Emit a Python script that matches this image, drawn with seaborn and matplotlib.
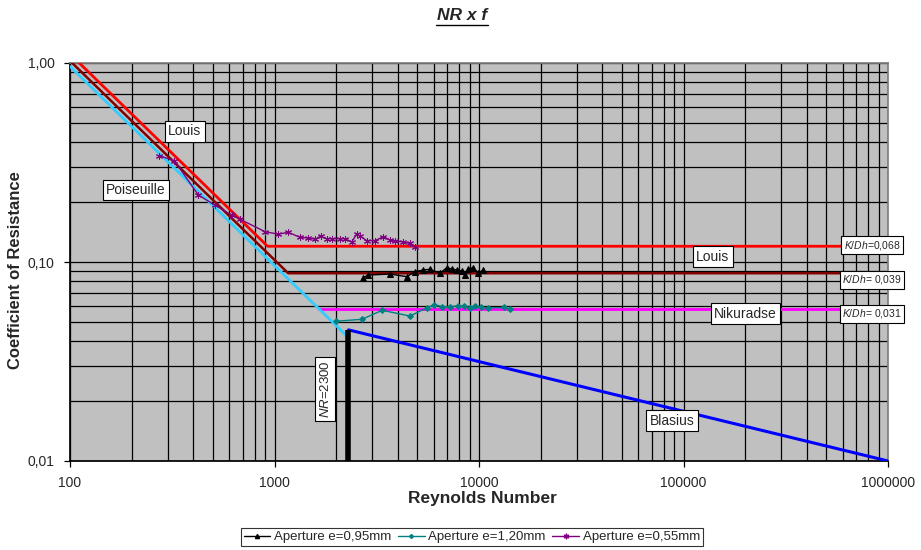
import numpy as np
import pandas as pd
import matplotlib
matplotlib.use("Agg")
import matplotlib.pyplot as plt
from matplotlib.ticker import LogLocator, FixedLocator, FuncFormatter, NullFormatter
from matplotlib.lines import Line2D
import seaborn as sns

re_095 = [2718, 2876, 3672, 4431, 4864, 5341, 5756, 6442, 6950, 7355, 7784, 8232, 8543, 8867, 9380, 9922, 10495]
f_095 = [0.0834, 0.0860, 0.0870, 0.0844, 0.0894, 0.0912, 0.0919, 0.0877, 0.0936, 0.0923, 0.0912, 0.0901,
         0.0860, 0.0923, 0.0936, 0.0877, 0.0912]

re_120 = [2005, 2670, 3363, 4598, 5567, 6058, 6607, 7239, 7923, 8410, 9036, 9560, 10228, 11007, 13195, 14229]
f_120 = [0.0504, 0.0515, 0.0572, 0.0535, 0.0589, 0.0610, 0.0596, 0.0596, 0.0603, 0.0601, 0.0585, 0.0603,
         0.0591, 0.0587, 0.0591, 0.0579]

re_055 = [273, 324, 424, 512, 618, 678, 899, 1044, 1168, 1333, 1463, 1585, 1680, 1800, 1905, 2090, 2213,
          2385, 2523, 2618, 2825, 3098, 3404, 3672, 3882, 4266, 4600, 4864]
f_055 = [0.342, 0.323, 0.217, 0.193, 0.172, 0.164, 0.142, 0.138, 0.141, 0.133, 0.132, 0.130, 0.135, 0.131,
         0.131, 0.131, 0.131, 0.126, 0.138, 0.135, 0.128, 0.128, 0.134, 0.129, 0.128, 0.126, 0.124, 0.119]

# Reference curves
poiseuille_re = [100, 2300]
poiseuille_f = [0.96, 0.0417]
blasius_re = [2300, 1000000]
blasius_f = [0.0456, 0.0100]
louis_068_re = [100, 925, 1000000]
louis_068_f = [1.11, 0.120, 0.120]
louis_039_re = [100, 1167, 1000000]
louis_039_f = [1.025, 0.0878, 0.0878]
nikuradse_re = [1650, 1000000]
nikuradse_f = [0.058, 0.058]
nr_critical = 2300

x_ticks = [100, 1000, 10000, 100000, 1000000]
y_ticks = [0.01, 0.1, 1.0]
y_tick_labels = ["0,01", "0,10", "1,00"]

sns.set_theme(style="ticks")
plt.rcParams["font.family"] = ["Liberation Sans", "DejaVu Sans"]
plt.rcParams["mathtext.fontset"] = "custom"
plt.rcParams["mathtext.rm"] = "Liberation Sans"
plt.rcParams["mathtext.it"] = "Liberation Sans:italic"
plt.rcParams["mathtext.bf"] = "Liberation Sans:bold"

fig = plt.figure(figsize=(9.21, 5.5), dpi=100)
ax = fig.add_axes([70 / 921, 1 - 461 / 550, 818 / 921, 398 / 550])
ax.set_facecolor("#C0C0C0")
ax.set_xscale("log")
ax.set_yscale("log")
ax.set_xlim(100, 1000000)
ax.set_ylim(0.01, 1.0)

# grid
ax.xaxis.set_major_locator(FixedLocator(x_ticks))
ax.xaxis.set_minor_locator(LogLocator(base=10, subs=range(2, 10), numticks=20))
ax.yaxis.set_major_locator(FixedLocator(y_ticks))
ax.yaxis.set_minor_locator(LogLocator(base=10, subs=range(2, 10), numticks=20))
ax.xaxis.set_minor_formatter(NullFormatter())
ax.yaxis.set_minor_formatter(NullFormatter())
ax.xaxis.set_major_formatter(FuncFormatter(lambda v, p: f"{int(round(v))}"))
ax.yaxis.set_major_formatter(FuncFormatter(lambda v, p: y_tick_labels[y_ticks.index(min(y_ticks, key=lambda t: abs(t - v)))]))
ax.grid(True, which="both", color="black", lw=0.9)
ax.set_axisbelow(True)
ax.tick_params(which="major", length=4, width=0.9, color="black", labelsize=10, pad=7)
ax.tick_params(which="minor", length=0)
for side in ["top", "right"]:
    ax.spines[side].set_color("#808080")
for side in ["left", "bottom"]:
    ax.spines[side].set_color("black")

# theory lines
ax.plot(louis_068_re, louis_068_f, color="#FF0000", lw=2.0, zorder=3)
ax.plot(louis_039_re, louis_039_f, color="#800000", lw=1.8, zorder=3)
ax.plot(nikuradse_re, nikuradse_f, color="#FF00FF", lw=2.0, zorder=3)
ax.plot(poiseuille_re, poiseuille_f, color="#33CCFF", lw=2.0, zorder=3)
ax.plot(blasius_re, blasius_f, color="#0000FF", lw=2.2, zorder=3)
ax.plot([nr_critical, nr_critical], [0.01, blasius_f[0]], color="black", lw=4, zorder=4,
        solid_capstyle="butt")

# experimental data
sns.lineplot(x=re_095, y=f_095, ax=ax, color="black", marker="^", markersize=4, lw=1.0,
             markeredgecolor="black", estimator=None, label="Aperture e=0,95mm", zorder=5)
sns.lineplot(x=re_120, y=f_120, ax=ax, color="#008080", marker="D", markersize=3, lw=1.0,
             markeredgecolor="#008080", estimator=None, label="Aperture e=1,20mm", zorder=5)
sns.lineplot(x=re_055, y=f_055, ax=ax, color="#800080", marker=(6, 2, 0), markersize=5, lw=1.0,
             markeredgecolor="#800080", estimator=None, label="Aperture e=0,55mm", zorder=5)
ax.get_legend().remove()

# annotations
box = dict(boxstyle="square,pad=0.25", fc="white", ec="black", lw=0.8)
ann = [
    ("Louis", 365, 0.455),
    ("Poiseuille", 210, 0.230),
    ("Louis", 139000, 0.106),
    ("Nikuradse", 201000, 0.0551),
    ("Blasius", 87900, 0.0159),
]
for txt, xx, yy in ann:
    ax.text(xx, yy, txt, fontsize=10, ha="center", va="center", bbox=box, zorder=6)
for txt, yy in [("$K/Dh$=0,068", 0.1217), ("$K/Dh$= 0,039", 0.0812), ("$K/Dh$= 0,031", 0.0548)]:
    ax.text(835000, yy, txt, fontsize=7.5, ha="center", va="center", bbox=box, zorder=6, clip_on=False)
ax.text(1766, 0.023, "$NR$=2300", fontsize=9.5, rotation=90, ha="center", va="center", bbox=box, zorder=6)

# titles / labels
fig.text(462 / 921, 1 - 15 / 550, "NR x f", fontsize=12.5, fontweight="bold", fontstyle="italic",
         ha="center", va="center")
fig.add_artist(Line2D([436 / 921, 488 / 921], [1 - 25 / 550, 1 - 25 / 550], color="black", lw=1.0))
fig.text(482 / 921, 1 - 498 / 550, "Reynolds Number", fontsize=12.5, fontweight="bold", ha="center", va="center")
fig.text(16 / 921, 1 - 270 / 550, "Coefficient of Resistance", fontsize=12, fontweight="bold",
         rotation=90, ha="center", va="center")

handles = [
    Line2D([], [], color="black", marker="^", markersize=3, lw=1.0),
    Line2D([], [], color="#008080", marker="D", markersize=2, lw=1.0),
    Line2D([], [], color="#800080", marker=(6, 2, 0), markersize=4, lw=1.0),
]
leg = fig.legend(handles, ["Aperture e=0,95mm", "Aperture e=1,20mm", "Aperture e=0,55mm"],
                 loc="center", bbox_to_anchor=(472 / 921, 1 - 537 / 550), ncol=3, fontsize=9.5,
                 frameon=True, fancybox=False, edgecolor="black", handlelength=2.0,
                 handletextpad=0.3, columnspacing=0.5, borderpad=0.2)
leg.get_frame().set_linewidth(0.8)

fig.savefig("out.png", dpi=100)
